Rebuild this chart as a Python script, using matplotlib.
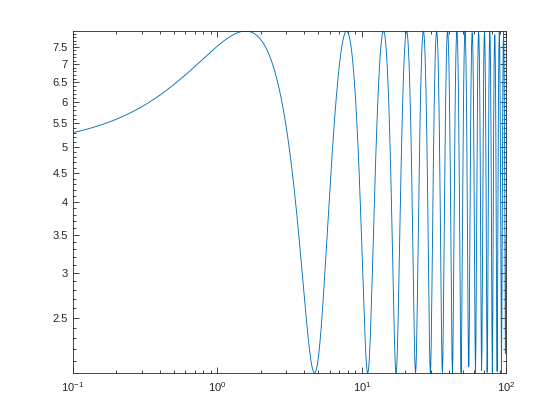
import numpy as np
import matplotlib
matplotlib.use("Agg")
import matplotlib.pyplot as plt
from matplotlib.ticker import FixedLocator, FixedFormatter, LogLocator

# curve: y = offset + amp * sin(x), x from 0.1 to 100 on log scale
x_start, x_stop, n_points = -1, 2, 1000
offset = 5.0
amp = 3.0

y_ticks = [2.5, 3, 3.5, 4, 4.5, 5, 5.5, 6, 6.5, 7, 7.5]
y_tick_labels = ["2.5", "3", "3.5", "4", "4.5", "5", "5.5", "6", "6.5", "7", "7.5"]
y_minor = [round(v, 1) for v in np.arange(2.1, 8.0, 0.1)]

x = np.logspace(x_start, x_stop, n_points)
y = offset + amp * np.sin(x)

plt.rcParams['font.family'] = ['Liberation Sans', 'DejaVu Sans']
edge = '#262626'

fig = plt.figure(figsize=(5.6, 4.2), dpi=100)
ax = fig.add_axes([0.130, 0.112, 0.774, 0.814])
ax.plot(x, y, color='#0072BD', lw=0.65)
ax.set_xscale('log')
ax.set_yscale('log')
ax.set_xlim(x.min(), x.max())
ax.set_ylim(y.min(), y.max())

ax.yaxis.set_major_locator(FixedLocator(y_ticks))
ax.yaxis.set_major_formatter(FixedFormatter(y_tick_labels))
ax.yaxis.set_minor_locator(FixedLocator(y_minor))
ax.yaxis.set_minor_formatter(FixedFormatter([]))
ax.xaxis.set_major_locator(LogLocator(base=10, numticks=10))
ax.xaxis.set_minor_locator(LogLocator(base=10, subs=np.arange(2, 10), numticks=20))

ax.tick_params(which='both', direction='in', top=True, right=True,
               colors=edge, labelsize=8, width=0.6)
ax.tick_params(which='major', length=4)
ax.tick_params(which='minor', length=2)
ax.tick_params(axis='x', which='major', pad=5)
for s in ax.spines.values():
    s.set_color(edge)
    s.set_linewidth(0.6)

fig.savefig('out.png', dpi=100)
